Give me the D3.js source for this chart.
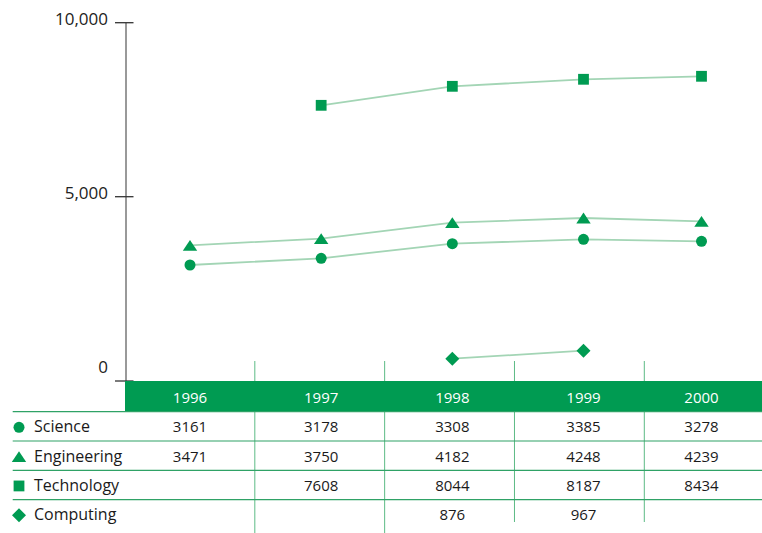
<!DOCTYPE html>
<html>
<head>
<meta charset="utf-8">
<script src="https://cdn.jsdelivr.net/npm/d3@7"></script>
<style>
  html, body { margin: 0; padding: 0; background: #fff; }
  svg { display: block; }
  text { font-family: "Open Sans", "Liberation Sans", sans-serif; }
</style>
</head>
<body>
<svg id="chart" width="762" height="533"></svg>
<script>
// ---------- data ----------
const years = [1996, 1997, 1998, 1999, 2000];
const seriesNames = ["Science", "Engineering", "Technology", "Computing"];
const seriesSymbols = ["circle", "triangle", "square", "diamond"];

// values printed in the table
const scienceTable = [3161, 3178, 3308, 3385, 3278];
const engineeringTable = [3471, 3750, 4182, 4248, 4239];
const technologyTable = [null, 7608, 8044, 8187, 8434];
const computingTable = [null, null, 876, 967, null];

// values as plotted in the original chart
const sciencePlotted = [3147, 3329, 3725, 3844, 3790];
const engineeringPlotted = [3682, 3861, 4295, 4422, 4333];
const technologyPlotted = [null, 7626, 8172, 8374, 8460];
const computingPlotted = [null, null, 605, 822, null];

const yTicks = [0, 5000, 10000];
const yTickLabels = ["0", "5,000", "10,000"];

// ---------- setup ----------
const tableRows = [scienceTable, engineeringTable, technologyTable, computingTable];
const plotted = [sciencePlotted, engineeringPlotted, technologyPlotted, computingPlotted];

const GREEN = "#009b52";
const LINE_GREEN = "#a3d5b5";
const RULE_GREEN = "#2fa266";
const COL_GREEN = "#5dbb85";

const svg = d3.select("#chart");

// x scale for marker / text centres, and one for column borders
const x = d3.scaleLinear().domain([1996, 1999, 2000]).range([190, 583.5, 701.5]);
const xEdge = d3.scaleLinear().domain([1995.5, 1999.5, 2000.5]).range([125, 644.3, 762]);
// y scale (the original axis is slightly uneven between its ticks)
const y = d3.scaleLinear().domain([0, 5000, 10000]).range([381, 196.7, 22.7]);

// marker path generators
function symbolPath(type) {
  switch (type) {
    case "circle": {
      const r = 5.5;
      return `M${-r},0A${r},${r} 0 1,0 ${r},0A${r},${r} 0 1,0 ${-r},0Z`;
    }
    case "triangle": {
      const w = 7.2, h = 5.4;
      return `M0,${-h}L${w},${h}L${-w},${h}Z`;
    }
    case "square": {
      const s = 5.4;
      return `M${-s},${-s}H${s}V${s}H${-s}Z`;
    }
    case "diamond": {
      const d = 7;
      return `M0,${-d}L${d},0L0,${d}L${-d},0Z`;
    }
  }
}

// ---------- y axis ----------
const axisG = svg.append("g");
axisG.append("line")
  .attr("x1", 126).attr("x2", 126)
  .attr("y1", y(10000)).attr("y2", y(0))
  .attr("stroke", "#6e6e6e").attr("stroke-width", 1.4);

axisG.selectAll("line.tick").data(yTicks).join("line")
  .attr("class", "tick")
  .attr("x1", 115).attr("x2", 133.5)
  .attr("y1", d => y(d)).attr("y2", d => y(d))
  .attr("stroke", "#333").attr("stroke-width", 1.3);

axisG.selectAll("text.tl").data(yTicks).join("text")
  .attr("class", "tl")
  .attr("x", 108)
  .attr("y", d => d === 0 ? y(d) - 7.7 : y(d) + 1.8)
  .attr("text-anchor", "end")
  .attr("font-size", 17)
  .attr("fill", "#222")
  .text((d, i) => yTickLabels[i]);

// ---------- table ----------
const headerTop = y(0), headerH = 30.7;
const rowTop = headerTop + headerH;
const rowH = 29.3;

// column separators above the header
svg.selectAll("line.colTop").data(years.slice(0, -1)).join("line")
  .attr("class", "colTop")
  .attr("x1", d => xEdge(d + 0.5)).attr("x2", d => xEdge(d + 0.5))
  .attr("y1", 361).attr("y2", headerTop)
  .attr("stroke", COL_GREEN).attr("stroke-width", 1);

// header band
svg.append("rect")
  .attr("x", xEdge(1995.5)).attr("y", headerTop)
  .attr("width", 762 - xEdge(1995.5)).attr("height", headerH)
  .attr("fill", GREEN);

svg.selectAll("text.yr").data(years).join("text")
  .attr("class", "yr")
  .attr("x", d => x(d)).attr("y", headerTop + 21.7)
  .attr("text-anchor", "middle")
  .attr("font-size", 15)
  .attr("fill", "#fff")
  .text(d => d);

// column separators in the body
svg.selectAll("line.colBody").data(years.slice(0, -1)).join("line")
  .attr("class", "colBody")
  .attr("x1", d => xEdge(d + 0.5)).attr("x2", d => xEdge(d + 0.5))
  .attr("y1", rowTop).attr("y2", (d, i) => i < 2 ? 533 : 522)
  .attr("stroke", COL_GREEN).attr("stroke-width", 1);

// row rules
svg.selectAll("line.row").data(d3.range(4)).join("line")
  .attr("class", "row")
  .attr("x1", 12.7).attr("x2", 762)
  .attr("y1", i => rowTop + i * rowH).attr("y2", i => rowTop + i * rowH)
  .attr("stroke", RULE_GREEN).attr("stroke-width", 1.2);

// legend markers + names
const rowsG = svg.selectAll("g.rowg").data(seriesNames).join("g")
  .attr("class", "rowg")
  .attr("transform", (d, i) => `translate(0,${rowTop + i * rowH + rowH / 2})`);

rowsG.append("path")
  .attr("transform", "translate(19,1)")
  .attr("d", (d, i) => symbolPath(seriesSymbols[i]))
  .attr("fill", GREEN);

rowsG.append("text")
  .attr("x", 34).attr("y", 6)
  .attr("font-size", 16)
  .attr("fill", "#1a1a1a")
  .text(d => d);

// table values
rowsG.each(function(name, i) {
  d3.select(this).selectAll("text.val")
    .data(years.map((yr, j) => ({ yr, v: tableRows[i][j] })).filter(d => d.v != null))
    .join("text")
    .attr("class", "val")
    .attr("x", d => x(d.yr)).attr("y", 6)
    .attr("text-anchor", "middle")
    .attr("font-size", 15)
    .attr("fill", "#1a1a1a")
    .text(d => d.v);
});

// ---------- lines + markers ----------
const line = d3.line()
  .defined(d => d.v != null)
  .x(d => x(d.yr))
  .y(d => y(d.v));

seriesNames.forEach((name, i) => {
  const pts = years.map((yr, j) => ({ yr, v: plotted[i][j] }));
  svg.append("path")
    .datum(pts)
    .attr("d", line)
    .attr("fill", "none")
    .attr("stroke", LINE_GREEN)
    .attr("stroke-width", 1.8);
  svg.append("g").selectAll("path").data(pts.filter(d => d.v != null)).join("path")
    .attr("transform", d => `translate(${x(d.yr)},${y(d.v)})`)
    .attr("d", symbolPath(seriesSymbols[i]))
    .attr("fill", GREEN);
});
</script>
</body>
</html>
